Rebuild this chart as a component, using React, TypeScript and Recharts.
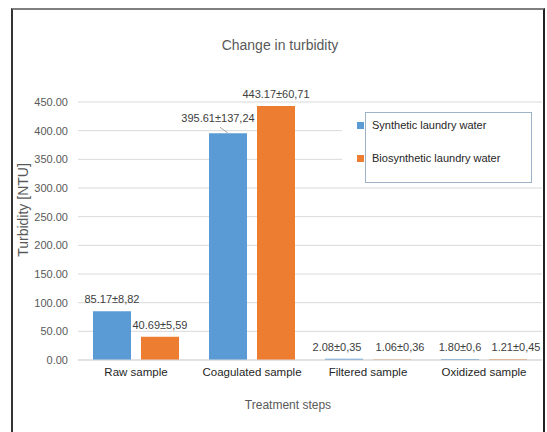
import React from 'react';
import { BarChart, Bar, XAxis, YAxis, CartesianGrid, LabelList } from 'recharts';

const CATEGORIES = ['Raw sample', 'Coagulated sample', 'Filtered sample', 'Oxidized sample'];
const SYNTHETIC = [85.17, 395.61, 2.08, 1.8];
const BIOSYNTHETIC = [40.69, 443.17, 1.06, 1.21];
const SYNTHETIC_LABELS = ['85.17±8,82', '395.61±137,24', '2.08±0,35', '1.80±0,6'];
const BIOSYNTHETIC_LABELS = ['40.69±5,59', '443.17±60,71', '1.06±0,36', '1.21±0,45'];
const Y_TICKS = [0, 50, 100, 150, 200, 250, 300, 350, 400, 450];
const SERIES_NAMES = ['Synthetic laundry water', 'Biosynthetic laundry water'];

const BLUE = '#5b9bd5';
const ORANGE = '#ed7d31';
// no serif face available in the sandbox, so Arial-metric sans with reduced sizes
const FONT = '"Liberation Sans", Arial, sans-serif';

// hand-nudged label offsets (px), as they were dragged in the original
const SYN_LABEL_DX = [0, -10, -7, 0];
const BIO_LABEL_DX = [0, 0, 8, 8];

const data = CATEGORIES.map((name, i) => ({
  name,
  synthetic: SYNTHETIC[i],
  biosynthetic: BIOSYNTHETIC[i],
}));

// labels above bars; the big blue one sits higher with a leader line like in Excel
const makeLabel = (labels: string[], shifts: number[], leaderIndex: number) => (props: any) => {
  const { x, y, width, index } = props;
  const cx = Number(x) + Number(width) / 2;
  const top = Number(y);
  const tx = cx + shifts[index];
  if (index === leaderIndex) {
    return (
      <g>
        <line x1={cx - 8} y1={top - 6} x2={cx} y2={top} stroke="#a6a6a6" strokeWidth={1} />
        <text x={tx} y={top - 11} textAnchor="middle" fontSize={11} fill="#404040" style={{ fontFamily: FONT }}>
          {labels[index]}
        </text>
      </g>
    );
  }
  return (
    <text x={tx} y={top - 8} textAnchor="middle" fontSize={11} fill="#404040" style={{ fontFamily: FONT }}>
      {labels[index]}
    </text>
  );
};

export default function App() {
  return (
    <div style={{ position: 'absolute', left: 0, top: 0, width: 547, height: 432, overflow: 'hidden', background: '#fff', fontFamily: FONT }}>
      <div
        style={{
          position: 'absolute',
          left: 11,
          top: 8,
          width: 534,
          height: 440,
          boxSizing: 'border-box',
          borderTop: '2px solid #7f7f7f',
          borderLeft: '2px solid #333',
          borderRight: '2px solid #222',
        }}
      />
      <div style={{ position: 'absolute', left: 0, width: 560, top: 37, textAlign: 'center', fontSize: 14, color: '#595959' }}>
        Change in turbidity
      </div>
      <BarChart
        width={547}
        height={432}
        data={data}
        margin={{ top: 102, right: 5, bottom: 42, left: 0 }}
        barSize={38}
        barGap={10}
        style={{ position: 'absolute', left: 0, top: 0, fontFamily: FONT }}
      >
        <CartesianGrid vertical={false} stroke="#d9d9d9" />
        <XAxis
          dataKey="name"
          height={30}
          axisLine={{ stroke: '#d9d9d9' }}
          tickLine={false}
          tickSize={0}
          tickMargin={8}
          tick={{ fontSize: 11.5, fill: '#262626', style: { fontFamily: FONT } }}
          interval={0}
        />
        <YAxis
          width={78}
          domain={[0, 450]}
          ticks={Y_TICKS}
          tickFormatter={(v: number) => v.toFixed(2)}
          axisLine={false}
          tickLine={false}
          tickSize={0}
          tickMargin={10}
          tick={{ fontSize: 11, fill: '#595959', style: { fontFamily: FONT } }}
        />
        <Bar dataKey="synthetic" fill={BLUE} isAnimationActive={false}>
          <LabelList dataKey="synthetic" content={makeLabel(SYNTHETIC_LABELS, SYN_LABEL_DX, 1)} />
        </Bar>
        <Bar dataKey="biosynthetic" fill={ORANGE} isAnimationActive={false}>
          <LabelList dataKey="biosynthetic" content={makeLabel(BIOSYNTHETIC_LABELS, BIO_LABEL_DX, -1)} />
        </Bar>
      </BarChart>
      <div
        style={{
          position: 'absolute',
          left: 23,
          top: 210,
          transform: 'translate(-50%, -50%) rotate(-90deg)',
          whiteSpace: 'nowrap',
          fontSize: 14,
          color: '#595959',
        }}
      >
        Turbidity [NTU]
      </div>
      <div style={{ position: 'absolute', left: 0, width: 576, top: 398, textAlign: 'center', fontSize: 12, color: '#595959' }}>
        Treatment steps
      </div>
      {/* legend: white patch over the gridlines, box on the right, markers outside the box */}
      <div style={{ position: 'absolute', left: 342, top: 108, width: 200, height: 78, background: '#fff' }}>
        <div
          style={{
            position: 'absolute',
            left: 23,
            top: 4,
            width: 167,
            height: 71,
            boxSizing: 'border-box',
            border: '1px solid #9fb3c8',
          }}
        />
        {SERIES_NAMES.map((name, i) => (
          <div key={name} style={{ position: 'absolute', left: 15, top: 10 + i * 33, height: 14, display: 'flex', alignItems: 'center' }}>
            <span style={{ display: 'inline-block', width: 7, height: 7, background: i === 0 ? BLUE : ORANGE }} />
            <span style={{ marginLeft: 8, fontSize: 11, color: '#262626', whiteSpace: 'nowrap' }}>{name}</span>
          </div>
        ))}
      </div>
    </div>
  );
}
